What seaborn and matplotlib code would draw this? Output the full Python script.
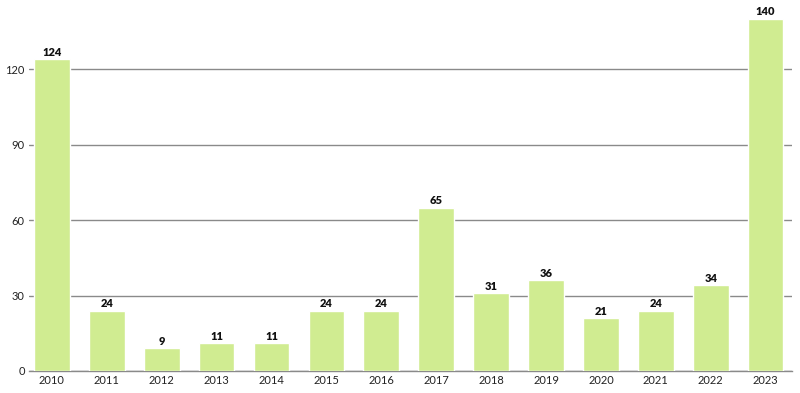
import matplotlib
matplotlib.use("Agg")
import matplotlib.pyplot as plt
import seaborn as sns
import pandas as pd

years = ["2010", "2011", "2012", "2013", "2014", "2015", "2016",
         "2017", "2018", "2019", "2020", "2021", "2022", "2023"]
counts = [124, 24, 9, 11, 11, 24, 24, 65, 31, 36, 21, 24, 34, 140]

df = pd.DataFrame({"year": years, "count": counts})

sns.set_style("white")
plt.rcParams["font.family"] = ["Lato", "DejaVu Sans"]

fig = plt.figure(figsize=(8, 3.93), dpi=100)
ax = fig.add_axes([0.036, 0.056, 0.954, 0.896])

sns.barplot(data=df, x="year", y="count", color="#d0ec91", width=0.65,
            saturation=1, ax=ax, zorder=3)

ax.set_ylim(0, 140)
ax.set_xlim(-0.42, 13.48)
ax.set_yticks([0, 30, 60, 90, 120])
ax.yaxis.grid(True, color="#8a8a8a", linewidth=1)
ax.set_axisbelow(True)
ax.set_xlabel("")
ax.set_ylabel("")

for s in ["top", "right", "left"]:
    ax.spines[s].set_visible(False)
ax.spines["bottom"].set_color("#8a8a8a")
ax.spines["bottom"].set_linewidth(1)

ax.tick_params(axis="both", length=0, labelsize=8, colors="#222222", pad=3)

for i, v in enumerate(counts):
    ax.text(i, v + 0.6, str(v), ha="center", va="bottom", fontsize=8,
            fontweight="heavy", color="#111111", clip_on=False)

fig.savefig("out.png", dpi=100)
